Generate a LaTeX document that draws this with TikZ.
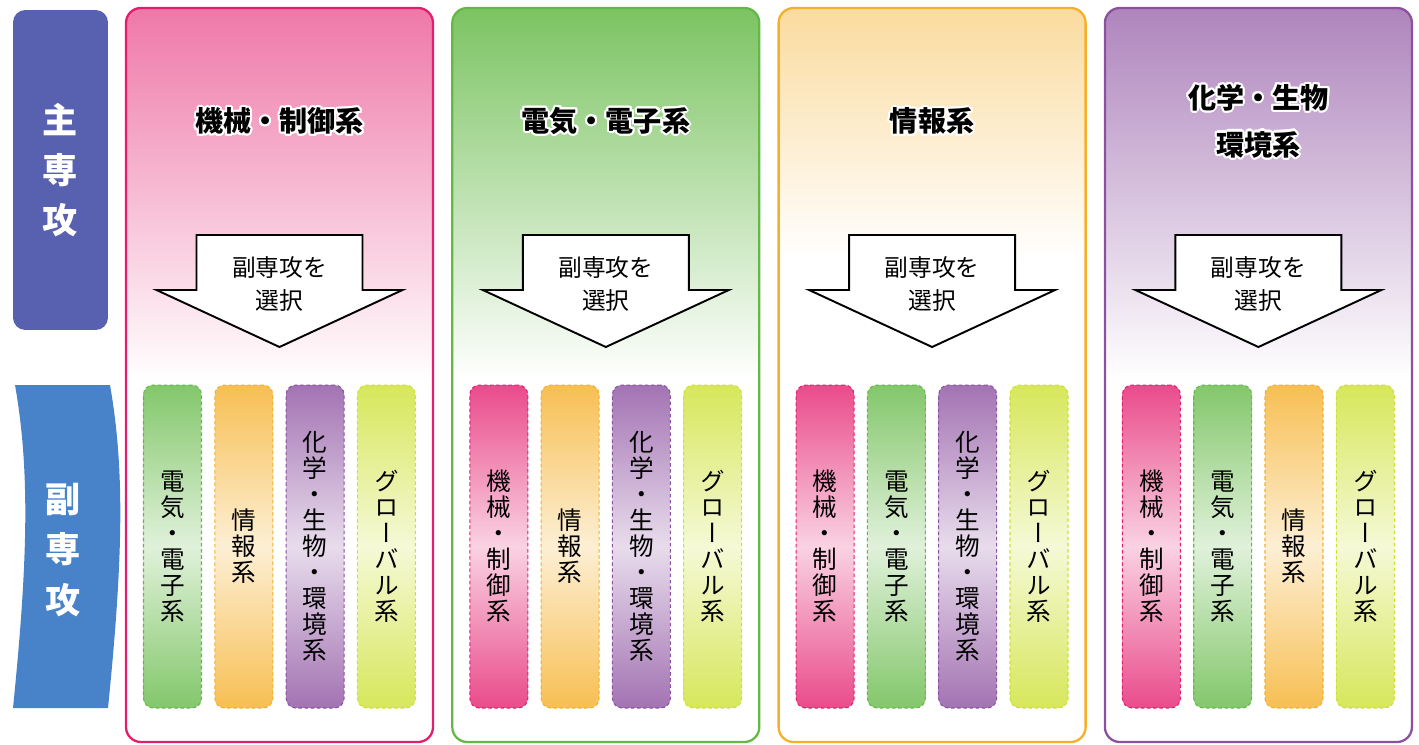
\documentclass[tikz,border=0pt]{standalone}
\usepackage{fontspec}
\setmainfont{Noto Sans CJK JP}
\newfontfamily\vjp[RawFeature=+vert]{Noto Sans CJK JP}
\usepackage{contour}
\contourlength{1.2pt}
\usetikzlibrary{positioning}

\definecolor{mech}{RGB}{228,30,110}
\definecolor{elec}{RGB}{100,185,70}
\definecolor{info}{RGB}{245,175,40}
\definecolor{chem}{RGB}{140,80,160}
\definecolor{glob}{RGB}{205,225,50}
\definecolor{majorblue}{RGB}{88,96,176}
\definecolor{minorblue}{RGB}{72,130,200}

\newcommand\titlefont{\bfseries\fontsize{16}{26.7}\selectfont}
\newcommand\pickfont{\fontsize{13.5}{19}\selectfont}
\newcommand\colfont{\vjp\fontsize{14}{14.8}\selectfont}
\newcommand\tabfont{\bfseries\fontsize{20}{28.5}\selectfont}
\newcommand\halo[1]{\contour{white}{#1}}

\newcommand\tatemech{機\\械\\・\\制\\御\\系}
\newcommand\tateelec{電\\気\\・\\電\\子\\系}
\newcommand\tateinfo{情\\報\\系}
\newcommand\tatechem{化\\学\\・\\生\\物\\・\\環\\境\\系}
\newcommand\tateglob{グ\\ロ\\ー\\バ\\ル\\系}

\begin{document}
\begin{tikzpicture}[x=0.02cm,y=-0.02cm,
    tabtext/.style={text=white,font=\tabfont,align=center},
    panelframe/.style={draw=#1,line width=1.3pt,rounded corners=8.5pt},
    titletext/.style={font=\titlefont,align=center},
    arrowbox/.style={draw=black,fill=white,line width=1.1pt,line join=miter},
    picktext/.style={font=\pickfont,align=center},
    subcol/.style={draw=#1,dash pattern=on 2pt off 1.5pt,line width=0.6pt,
      rounded corners=5.5pt,top color=#1!80!white,bottom color=#1!80!white,
      middle color=#1!20!white,minimum width=1.16cm,minimum height=6.46cm,
      inner sep=0pt,align=center,font=\colfont}]
  \useasboundingbox (0,0) rectangle (1419,744);

  % left tabs
  \node[fill=majorblue,rounded corners=7pt,minimum width=1.9cm,minimum height=6.4cm,
    tabtext] (major) at (60.5,170) {主\\専\\攻};
  \fill[minorblue] (15,385) .. controls (30,470) and (28,560) .. (13,708)
    -- (108,708) .. controls (123,560) and (125,470) .. (110,385) -- cycle;
  \node[tabtext] (minor) at (63,550) {副\\専\\攻};

  % main fields
  \foreach \i/\pc/\mix/\fadeto/\ttl in {0/mech/60/380/{\halo{機械・制御系}},
      1/elec/85/380/{\halo{電気・電子系}},2/info/45/260/{\halo{情報系}},
      3/chem/70/380/{\halo{化学・生物}\\\halo{環境系}}}{
    \pgfmathsetmacro\L{126+326.3*\i}
    \pgfmathsetmacro\C{\L+153.5}
    \pgfmathsetmacro\R{\L+307}
    \begin{scope}
      \clip[rounded corners=8.5pt] (\L,8) rectangle (\R,742);
      \shade[top color=\pc!\mix!white,bottom color=white] (\L,8) rectangle (\R,\fadeto);
    \end{scope}
    \draw[panelframe=\pc] (\L,8) rectangle (\R,742);
    \node[titletext] (title\i) at (\C,122) {\ttl};
    \draw[arrowbox] (\C-83,235) -- (\C+83,235) -- (\C+83,290) -- (\C+123,290)
      -- (\C,347) -- (\C-123,290) -- (\C-83,290) -- cycle;
    \node[picktext] (pick\i) at (\C,284) {副専攻を\\選択};
  }

  % sub fields
  \foreach \i/\a/\b/\c/\d in {0/elec/info/chem/glob,1/mech/info/chem/glob,
      2/mech/elec/chem/glob,3/mech/elec/info/glob}{
    \foreach \k/\s in {0/\a,1/\b,2/\c,3/\d}{
      \node[subcol=\s] (sub\i\k) at (279.5+326.3*\i+71.3*\k-107,546.5)
        {\csname tate\s\endcsname};
    }
  }
\end{tikzpicture}
\end{document}
